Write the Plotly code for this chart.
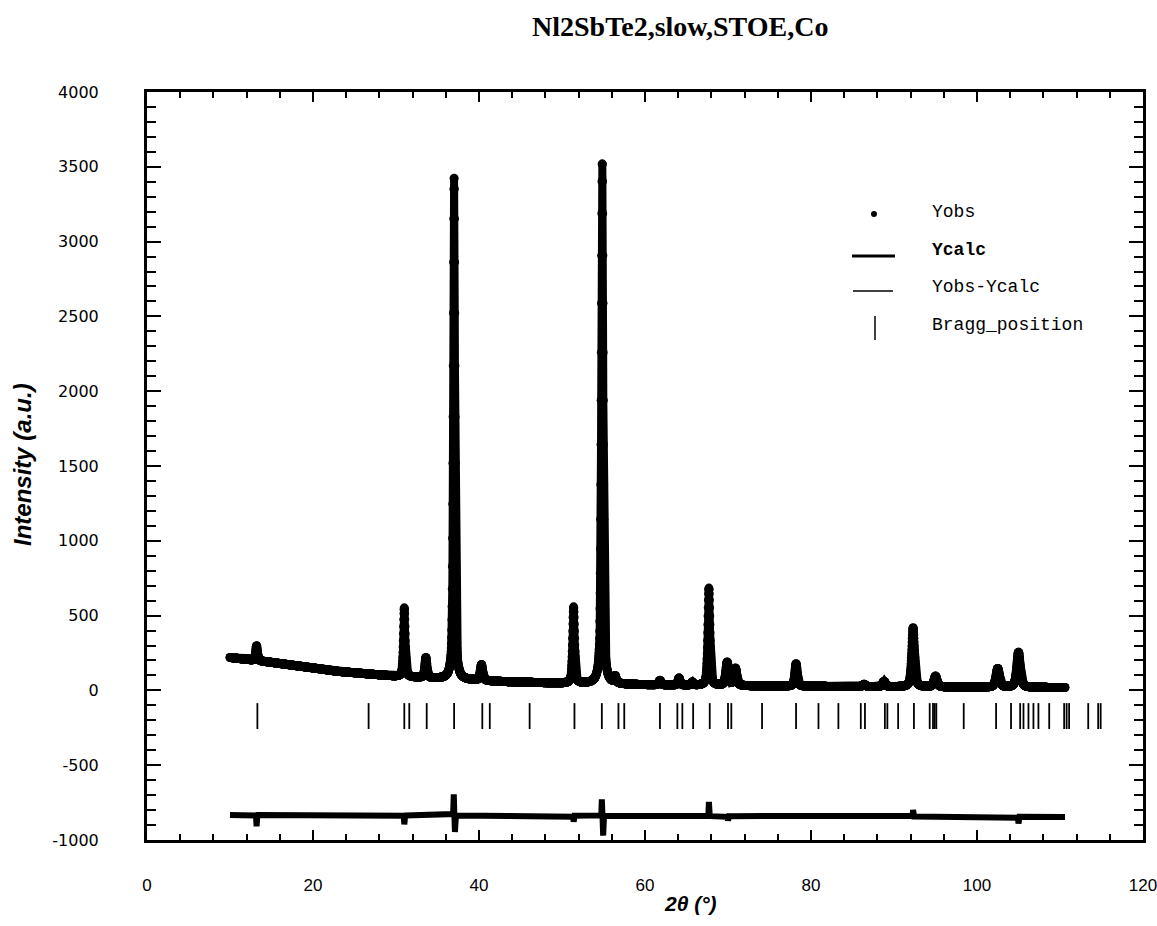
import numpy as np
import plotly.graph_objects as go

# ---------------- data ----------------
# background anchors (2theta, intensity)
bg_x = [10, 15, 20, 23, 30, 35, 43, 50, 60, 70, 80, 90, 100, 110.6]
bg_y = [220, 187, 150, 127, 94, 78, 58, 47, 37, 31, 27, 24, 21, 19]

# peaks: position, height above background, FWHM
peak_pos = [13.2, 31.0, 33.6, 37.0, 40.3, 51.4, 54.85, 56.4, 61.8, 64.1, 65.7,
            67.7, 69.9, 70.9, 78.2, 86.4, 88.8, 92.3, 95.0, 102.5, 105.0]
peak_height = [100, 460, 135, 3350, 105, 510, 3490, 45, 30, 47, 20,
               650, 155, 115, 150, 15, 35, 395, 72, 125, 235]
peak_fwhm = [0.25, 0.25, 0.3, 0.25, 0.35, 0.28, 0.28, 0.3, 0.3, 0.3, 0.3,
             0.3, 0.4, 0.4, 0.35, 0.4, 0.4, 0.4, 0.45, 0.5, 0.5]

# difference curve features
diff_base = [-833, -846]
diff_pos = [13.2, 31.0, 36.95, 37.1, 51.4, 54.8, 54.95, 67.7, 70.0, 92.3, 105.0]
diff_amp = [-75, -60, 150, -110, -40, 110, -140, 95, -30, 45, -45]

# Bragg reflections
bragg_pos = [13.3, 26.7, 31.0, 31.6, 33.7, 37.0, 40.4, 41.3, 46.1, 51.5, 54.8,
             56.8, 57.5, 61.8, 63.9, 64.5, 65.8, 67.8, 70.0, 70.4, 74.1, 78.2,
             80.9, 83.3, 86.0, 86.5, 88.9, 89.2, 90.5, 92.4, 94.3, 94.7, 94.9,
             95.1, 98.4, 102.3, 104.1, 105.2, 105.6, 106.2, 106.8, 107.4,
             108.7, 110.5, 110.8, 111.1, 113.4, 114.6, 114.9]

x_start, x_end, x_step = 10.0, 110.6, 0.02

ytick_vals = [-1000, -500, 0, 500, 1000, 1500, 2000, 2500, 3000, 3500, 4000]
ytick_text = ["-1000", "-500", "0", "500", "1000", "1500", "2000", "2500",
              "3000", "3500", "4000"]
xtick_vals = [0, 20, 40, 60, 80, 100, 120]
xtick_text = ["0", "20", "40", "60", "80", "100", "120"]

# ---------------- build profile from read values ----------------
tt = np.arange(x_start, x_end + 1e-9, x_step)
ycalc = np.interp(tt, bg_x, bg_y).astype(float)
for p, h, w in zip(peak_pos, peak_height, peak_fwhm):
    d = (tt - p) / w
    g = np.exp(-4 * np.log(2) * d ** 2)
    l = 1.0 / (1.0 + 4 * d ** 2)
    ycalc += h * (0.5 * g + 0.5 * l)
yobs = ycalc.copy()

ydiff = np.interp(tt, [x_start, x_end], diff_base)
for p, a in zip(diff_pos, diff_amp):
    ydiff += a * np.exp(-0.5 * ((tt - p) / 0.03) ** 2)

bx, by = [], []
for p in bragg_pos:
    bx += [p, p, None]
    by += [-85, -258, None]

# ---------------- layout geometry ----------------
W, H = 1157, 926
L, R, T, B = 147, 1143, 92, 840


def px(xp):
    return (xp - L) / (R - L)


def py(yp):
    return (B - yp) / (B - T)


fig = go.Figure()
fig.add_trace(go.Scatter(x=tt, y=yobs, mode="markers",
                         marker=dict(color="black", size=9), name="Yobs"))
fig.add_trace(go.Scatter(x=tt, y=ycalc, mode="lines",
                         line=dict(color="black", width=8), name="Ycalc"))
fig.add_trace(go.Scatter(x=tt, y=ydiff, mode="lines",
                         line=dict(color="black", width=6), name="Yobs-Ycalc"))
fig.add_trace(go.Scatter(x=bx, y=by, mode="lines",
                         line=dict(color="black", width=1.8), name="Bragg_position"))

axis_common = dict(showline=True, linecolor="black", linewidth=3, mirror="ticks",
                   ticks="inside", tickcolor="black", showgrid=False, zeroline=False,
                   automargin=False, ticklabeloverflow="allow")

fig.update_xaxes(range=[0, 120], tickmode="array", tickvals=xtick_vals,
                 ticktext=xtick_text, ticklen=10, tickwidth=2,
                 minor=dict(dtick=4, ticklen=6, tickwidth=1.5, ticks="inside",
                            tickcolor="black", showgrid=False),
                 tickfont=dict(family="Liberation Sans Narrow, Liberation Sans",
                               size=17, color="black"),
                 ticklabelstandoff=28, **axis_common)
fig.update_yaxes(range=[-1000, 4000], tickmode="array", tickvals=ytick_vals,
                 ticktext=ytick_text, ticklen=14, tickwidth=2,
                 minor=dict(dtick=100, ticklen=9, tickwidth=1.5, ticks="inside",
                            tickcolor="black", showgrid=False),
                 tickfont=dict(family="DejaVu Sans", size=16, color="black"),
                 ticklabelstandoff=42, **axis_common)

ann = []
ann.append(dict(text="<b>Nl2SbTe2,slow,STOE,Co</b>", x=px(680), y=py(27),
                xref="paper", yref="paper", showarrow=False,
                xanchor="center", yanchor="middle",
                font=dict(family="Liberation Serif", size=28, color="black")))
ann.append(dict(text="<b><i>Intensity (a.u.)</i></b>", x=px(22), y=py(465),
                xref="paper", yref="paper", showarrow=False, textangle=-90,
                xanchor="center", yanchor="middle",
                font=dict(family="Liberation Sans Narrow, Liberation Sans",
                          size=24, color="black")))
ann.append(dict(text="<b><i>2θ (°)</i></b>", x=px(690), y=py(903),
                xref="paper", yref="paper", showarrow=False,
                xanchor="center", yanchor="middle",
                font=dict(family="Liberation Sans Narrow, Liberation Sans",
                          size=21, color="black")))

leg_font = dict(family="Liberation Mono, Courier New", size=18, color="black")
for text, yp in [("Yobs", 212), ("<b>Ycalc</b>", 250), ("Yobs-Ycalc", 287),
                 ("Bragg_position", 325)]:
    ann.append(dict(text=text, x=px(930), y=py(yp), xref="paper", yref="paper",
                    xanchor="left", yanchor="middle", showarrow=False,
                    font=leg_font))

shapes = [
    dict(type="circle", xref="paper", yref="paper", x0=px(871), x1=px(877),
         y0=py(217), y1=py(211), fillcolor="black", line=dict(width=0)),
    dict(type="line", xref="paper", yref="paper", x0=px(852), x1=px(895),
         y0=py(256), y1=py(256), line=dict(color="black", width=3)),
    dict(type="line", xref="paper", yref="paper", x0=px(853), x1=px(893),
         y0=py(291), y1=py(291), line=dict(color="black", width=1.5)),
    dict(type="line", xref="paper", yref="paper", x0=px(875), x1=px(875),
         y0=py(316), y1=py(340), line=dict(color="black", width=1.5)),
]

fig.update_layout(width=W, height=H, margin=dict(l=L, r=W - R, t=T, b=H - B),
                  plot_bgcolor="white", paper_bgcolor="white", showlegend=False,
                  annotations=ann, shapes=shapes)

fig.write_html("out.html")
